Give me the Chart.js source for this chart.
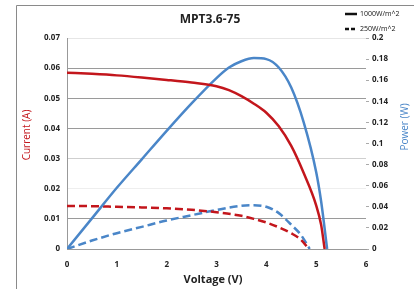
<!DOCTYPE html>
<html>
<head>
<meta charset="utf-8">
<script src="https://cdn.jsdelivr.net/npm/chart.js@4/dist/chart.umd.min.js"></script>
<style>
  html, body { margin: 0; padding: 0; background: #fff; }
  #wrap { width: 414px; height: 289px; position: relative; }
</style>
</head>
<body>
<div id="wrap"><canvas id="ivChart" width="414" height="289"></canvas></div>
<script>
// Voltage / current / power
const voltsI1000 = [0, 0.5, 1, 1.5, 2, 2.5, 3, 3.25, 3.5, 3.75, 4, 4.25, 4.5, 4.75, 5, 5.1, 5.17];
const current1000 = [0.0585, 0.0581, 0.0576, 0.0569, 0.0561, 0.0552, 0.0540, 0.0527, 0.0507, 0.0482, 0.0452, 0.0407, 0.0342, 0.0252, 0.0145, 0.0080, 0];

const voltsP1000 = [0, 0.5, 1, 1.5, 2, 2.5, 3, 3.25, 3.5, 3.75, 4, 4.25, 4.5, 4.75, 5, 5.1, 5.22];
const power1000 = [0, 0.029, 0.058, 0.085, 0.112, 0.138, 0.162, 0.172, 0.178, 0.181, 0.180, 0.172, 0.153, 0.120, 0.073, 0.045, 0];

const voltsI250 = [0, 0.5, 1, 1.5, 2, 2.5, 3, 3.5, 3.75, 4, 4.25, 4.5, 4.7, 4.85];
const current250 = [0.0143, 0.0142, 0.0140, 0.0138, 0.0135, 0.0130, 0.0122, 0.0110, 0.0100, 0.0088, 0.0072, 0.0052, 0.0030, 0];

const voltsP250 = [0, 0.5, 1, 1.5, 2, 2.5, 3, 3.5, 3.75, 4, 4.25, 4.5, 4.7, 4.87];
const power250 = [0, 0.008, 0.015, 0.021, 0.027, 0.032, 0.037, 0.041, 0.0415, 0.040, 0.034, 0.023, 0.013, 0];

const legendLabels = ['1000W/m^2', '250W/m^2'];

const RED = '#c3161c';
const BLUE = '#4a86c8';
const FONT = '"Open Sans", "DejaVu Sans", sans-serif';

function pts(xs, ys) {
    return xs.map((x, i) => ({ x: x, y: ys[i] }));
}

const lineStyle = {
    showLine: true,
    pointRadius: 0,
    borderWidth: 2.5,
    tension: 0.4,
    cubicInterpolationMode: 'monotone',
    fill: false
};

// plain number labels: 0.2 not 0.20
const shortNum = v => String(+v.toFixed(3));

// titles, legend and the outer frame
const decor = {
    id: 'decor',
    afterDraw(chart) {
        const ctx = chart.ctx;
        ctx.save();
        ctx.strokeStyle = '#8a8a8a';
        ctx.lineWidth = 1;
        ctx.beginPath();
        ctx.moveTo(16.5, 289);
        ctx.lineTo(16.5, 5.5);
        ctx.lineTo(414, 5.5);
        ctx.stroke();

        ctx.fillStyle = '#222';
        ctx.textAlign = 'center';
        ctx.textBaseline = 'middle';
        ctx.font = 'bold 12px ' + FONT;
        ctx.fillText('MPT3.6-75', 210, 20);
        ctx.font = 'bold 11px ' + FONT;
        ctx.fillText('Voltage (V)', 213, 280);

        ctx.font = '10px ' + FONT;
        ctx.save();
        ctx.translate(27, 135);
        ctx.rotate(-Math.PI / 2);
        ctx.fillStyle = RED;
        ctx.fillText('Current (A)', 0, 0);
        ctx.restore();
        ctx.save();
        ctx.translate(405, 127);
        ctx.rotate(-Math.PI / 2);
        ctx.fillStyle = BLUE;
        ctx.fillText('Power (W)', 0, 0);
        ctx.restore();

        // legend
        ctx.strokeStyle = '#111';
        ctx.lineWidth = 2.5;
        ctx.beginPath();
        ctx.moveTo(345, 14);
        ctx.lineTo(357, 14);
        ctx.stroke();
        ctx.setLineDash([4, 2]);
        ctx.beginPath();
        ctx.moveTo(345, 29);
        ctx.lineTo(357, 29);
        ctx.stroke();
        ctx.setLineDash([]);
        ctx.fillStyle = '#111';
        ctx.textAlign = 'left';
        ctx.font = '7px ' + FONT;
        ctx.fillText(legendLabels[0], 360, 14);
        ctx.fillText(legendLabels[1], 360, 29);
        ctx.restore();
    }
};

new Chart(document.getElementById('ivChart'), {
    type: 'scatter',
    data: {
        datasets: [
            Object.assign({ label: 'I 1000', data: pts(voltsI1000, current1000), borderColor: RED, yAxisID: 'yI' }, lineStyle),
            Object.assign({ label: 'P 1000', data: pts(voltsP1000, power1000), borderColor: BLUE, yAxisID: 'yP' }, lineStyle),
            Object.assign({ label: 'I 250', data: pts(voltsI250, current250), borderColor: RED, borderDash: [8, 4], yAxisID: 'yI' }, lineStyle),
            Object.assign({ label: 'P 250', data: pts(voltsP250, power250), borderColor: BLUE, borderDash: [8, 4], yAxisID: 'yP' }, lineStyle)
        ]
    },
    options: {
        responsive: false,
        animation: false,
        layout: { padding: { top: 38, left: 0, right: 0, bottom: 0 } },
        plugins: { legend: { display: false }, tooltip: { enabled: false } },
        scales: {
            x: {
                type: 'linear',
                min: 0,
                max: 6,
                ticks: { stepSize: 1, padding: 3, color: '#222', font: { family: FONT, size: 8, weight: 'bold' } },
                grid: { display: false },
                border: { display: true, color: '#999' },
                afterFit: s => { s.height = 40; }
            },
            yI: {
                position: 'left',
                min: 0,
                max: 0.07,
                ticks: { stepSize: 0.01, padding: 7, color: '#222', callback: shortNum, font: { family: FONT, size: 8, weight: 'bold' } },
                grid: {
                    drawTicks: false,
                    color: c => {
                        const v = Math.round(c.tick.value * 100);
                        if (v === 7) return '#e6e6e6';
                        if (v === 2) return '#eeeeee';
                        if (v === 3) return '#cfcfcf';
                        return '#9a9a9a';
                    },
                    lineWidth: 1
                },
                border: { display: true, color: '#999' },
                afterFit: s => { s.width = 67; }
            },
            yP: {
                position: 'right',
                min: 0,
                max: 0.2,
                ticks: { stepSize: 0.02, padding: 3, color: '#222', callback: shortNum, font: { family: FONT, size: 8, weight: 'bold' } },
                grid: { drawOnChartArea: false, tickLength: 3, tickColor: '#aaa' },
                border: { display: false },
                afterFit: s => { s.width = 48; }
            }
        }
    },
    plugins: [decor]
});
</script>
</body>
</html>
